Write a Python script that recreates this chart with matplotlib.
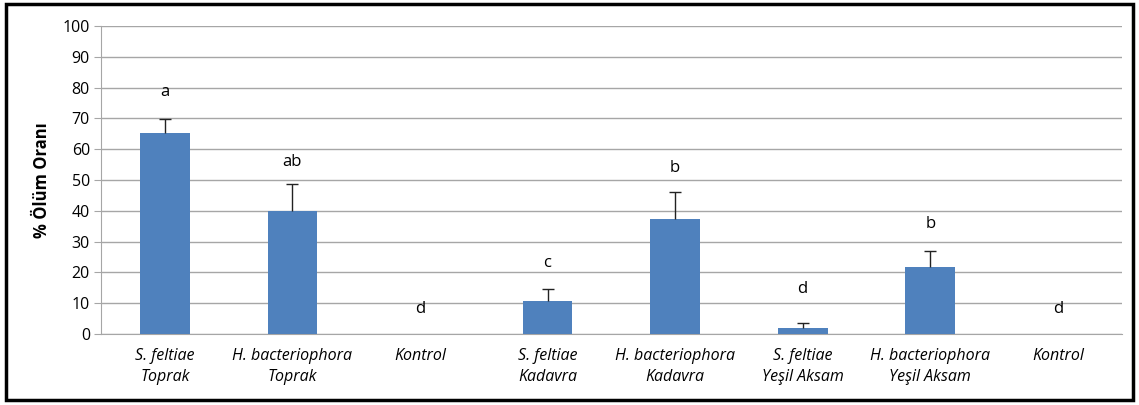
import matplotlib.pyplot as plt
from matplotlib.patches import Rectangle

# Veriler
labels = ["S. feltiae\nToprak", "H. bacteriophora\nToprak", "Kontrol",
          "S. feltiae\nKadavra", "H. bacteriophora\nKadavra",
          "S. feltiae\nYeşil Aksam", "H. bacteriophora\nYeşil Aksam", "Kontrol"]
values = [65.2, 40.0, 0.0, 10.7, 37.3, 2.0, 21.8, 0.0]
errors = [4.6, 8.7, 0.0, 4.0, 8.8, 1.6, 5.2, 0.0]
letters = ["a", "ab", "d", "c", "b", "d", "b", "d"]
letter_y = [78.5, 56.0, 8.0, 23.0, 54.0, 14.6, 35.8, 8.0]

plt.rcParams["font.family"] = ["Open Sans", "DejaVu Sans"]

fig = plt.figure(figsize=(11.39, 4.05), dpi=100)
ax = fig.add_axes([0.0887, 0.175, 0.896, 0.761])

x = list(range(len(values)))
ax.bar(x, values, width=0.39, color="#4f81bd", zorder=3)

# Sadece üst hata çubukları (sıfır olanlar hariç)
ex = [xi for xi, e in zip(x, errors) if e > 0]
ev = [v for v, e in zip(values, errors) if e > 0]
ee = [e for e in errors if e > 0]
_, caps, _ = ax.errorbar(ex, ev, yerr=[[0] * len(ee), ee], fmt="none",
                         ecolor="#222222", elinewidth=1, capsize=4, capthick=1, zorder=4)
caps[0].set_visible(False)

for xi, lt, ly in zip(x, letters, letter_y):
    ax.text(xi, ly, lt, ha="center", va="center", fontsize=12, zorder=5)

ax.set_xlim(-0.5, len(values) - 0.5)
ax.set_ylim(0, 100)
ax.set_yticks(range(0, 101, 10))
ax.yaxis.grid(True, color="#a6a6a6", linewidth=1, zorder=0)
ax.set_axisbelow(True)

ax.set_xticks(x)
ax.set_xticklabels(labels, fontstyle="italic", fontsize=11.5, linespacing=1.45)
ax.tick_params(axis="x", length=0, pad=10)
ax.tick_params(axis="y", length=5, color="#a6a6a6", labelsize=11.5, pad=3)

for s in ["top", "right"]:
    ax.spines[s].set_visible(False)
ax.spines["left"].set_color("#a6a6a6")
ax.spines["bottom"].set_color("#a6a6a6")

ax.set_ylabel("% Ölüm Oranı", fontsize=12, fontweight="bold", labelpad=8)

# Dış çerçeve
fig.patches.append(Rectangle((0.005, 0.012), 0.99, 0.978, transform=fig.transFigure,
                             fill=False, edgecolor="black", linewidth=2.5))

fig.savefig("out.png", dpi=100)
